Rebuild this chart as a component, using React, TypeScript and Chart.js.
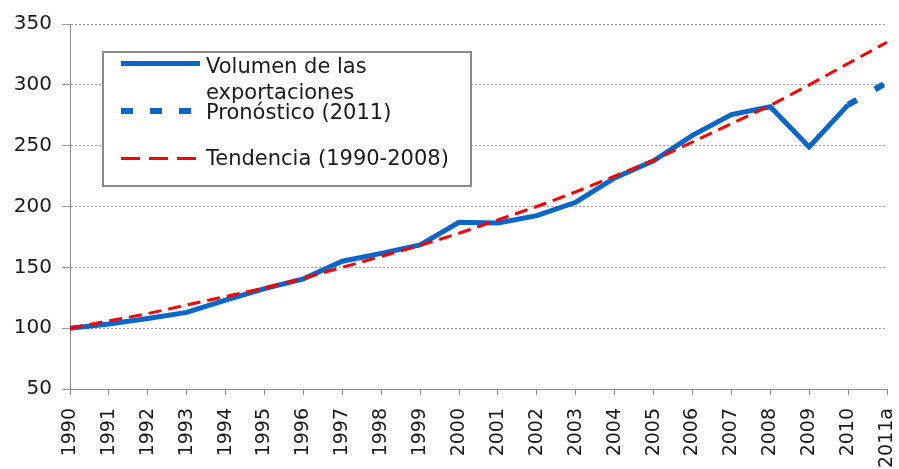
import React, { useEffect, useRef } from "react";
import { Chart, registerables } from "chart.js";

Chart.register(...registerables);

const years = ["1990","1991","1992","1993","1994","1995","1996","1997","1998","1999","2000","2001","2002","2003","2004","2005","2006","2007","2008","2009","2010","2011a"];
const volumen = [100, 103.5, 108, 113, 123, 132.5, 140.5, 155, 161.5, 168.5, 187, 186.5, 192.5, 203.5, 223.5, 237.5, 258.5, 275.5, 282, 249, 283.5, null];
const pronostico = [null, null, null, null, null, null, null, null, null, null, null, null, null, null, null, null, null, null, null, null, 283.5, 302];
const tendencia = [100, 106, 112, 119, 126, 133, 141, 150, 159, 168, 178, 189, 200, 212, 225, 238, 253, 268, 283, 300, 317.5, 335];
const yTicks = [50, 100, 150, 200, 250, 300, 350];

const legendLabels = [["Volumen de las", "exportaciones"], ["Pronóstico (2011)"], ["Tendencia (1990-2008)"]];

const FONT = "'DejaVu Sans', Verdana, sans-serif";
const BLUE = "#0A66C8";
const RED = "#FF0000";

const legendPlugin = {
  id: "boxLegend",
  afterDraw(chart: any) {
    const ctx = chart.ctx;
    ctx.save();
    ctx.fillStyle = "#ffffff";
    ctx.fillRect(103, 52, 368, 134);
    ctx.strokeStyle = "#8a8a8a";
    ctx.lineWidth = 2;
    ctx.strokeRect(103, 52, 368, 134);

    ctx.strokeStyle = BLUE;
    ctx.lineWidth = 5;
    ctx.setLineDash([]);
    ctx.beginPath();
    ctx.moveTo(121, 63.5);
    ctx.lineTo(200, 63.5);
    ctx.stroke();

    ctx.lineWidth = 6;
    ctx.setLineDash([12, 17]);
    ctx.beginPath();
    ctx.moveTo(121, 111);
    ctx.lineTo(200, 111);
    ctx.stroke();

    ctx.strokeStyle = RED;
    ctx.lineWidth = 3;
    ctx.setLineDash([19, 9]);
    ctx.beginPath();
    ctx.moveTo(121, 158.5);
    ctx.lineTo(200, 158.5);
    ctx.stroke();
    ctx.setLineDash([]);

    ctx.fillStyle = "#1a1a1a";
    ctx.font = `21px ${FONT}`;
    ctx.textAlign = "left";
    ctx.textBaseline = "alphabetic";
    ctx.fillText(legendLabels[0][0], 206, 73);
    ctx.fillText(legendLabels[0][1], 206, 99);
    ctx.fillText(legendLabels[1][0], 206, 119);
    ctx.fillText(legendLabels[2][0], 206, 165);
    ctx.restore();
  },
};

export default function App() {
  const ref = useRef<HTMLCanvasElement | null>(null);
  useEffect(() => {
    if (!ref.current) return;
    const chart = new Chart(ref.current, {
      type: "line",
      data: {
        labels: years,
        datasets: [
          {
            label: "Tendencia (1990-2008)",
            data: tendencia,
            borderColor: RED,
            borderWidth: 3,
            borderDash: [13, 7],
            pointRadius: 0,
            tension: 0,
            fill: false,
          },
          {
            label: "Volumen de las exportaciones",
            data: volumen as any,
            borderColor: BLUE,
            borderWidth: 5,
            pointRadius: 0,
            tension: 0,
            fill: false,
            spanGaps: false,
          },
          {
            label: "Pronóstico (2011)",
            data: pronostico as any,
            borderColor: BLUE,
            borderWidth: 6,
            borderDash: [10, 21],
            pointRadius: 0,
            tension: 0,
            fill: false,
          },
        ],
      },
      options: {
        animation: false,
        responsive: true,
        maintainAspectRatio: false,
        layout: { padding: { top: 24, right: 12, left: 0, bottom: 0 } },
        plugins: {
          legend: { display: false },
          tooltip: { enabled: false },
        },
        scales: {
          x: {
            offset: false,
            grid: {
              drawOnChartArea: false,
              drawTicks: true,
              tickLength: 6,
              tickColor: "#8a8a8a",
              color: "#8a8a8a",
            },
            border: { display: true, color: "#8a8a8a", width: 1 },
            ticks: {
              autoSkip: false,
              minRotation: 90,
              maxRotation: 90,
              padding: 13,
              color: "#1a1a1a",
              font: { family: FONT, size: 19 },
            },
            afterFit: (scale: any) => {
              scale.height = 80;
              scale.paddingLeft = 0;
              scale.paddingRight = 0;
            },
          },
          y: {
            min: 50,
            max: 350,
            afterBuildTicks: (scale: any) => {
              scale.ticks = yTicks.map((v) => ({ value: v }));
            },
            grid: {
              color: "#999999",
              lineWidth: 1,
              tickLength: 8,
              tickColor: "#999999",
            },
            border: { display: true, color: "#8a8a8a", width: 1, dash: [2, 2] },
            ticks: {
              padding: 10,
              color: "#1a1a1a",
              font: { family: FONT, size: 20 },
            },
            afterFit: (scale: any) => {
              scale.width = 70;
            },
          },
        },
      },
      plugins: [legendPlugin],
    });
    return () => chart.destroy();
  }, []);
  return (
    <div style={{ position: "fixed", left: 0, top: 0, width: 899, height: 469, background: "#fff" }}>
      <canvas ref={ref} />
    </div>
  );
}
